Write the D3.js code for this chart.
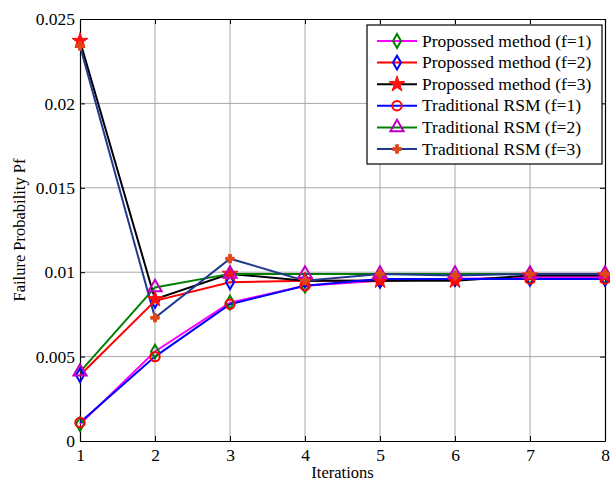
<!DOCTYPE html>
<html>
<head>
<meta charset="utf-8">
<script src="https://cdn.jsdelivr.net/npm/d3@7"></script>
<style>
  body { margin: 0; background: #fff; }
  svg text { font-family: "Liberation Serif", "Times New Roman", serif; }
</style>
</head>
<body>
<div id="chart"></div>
<script>
const iterations = [1, 2, 3, 4, 5, 6, 7, 8];
const yTicks = [0, 0.005, 0.01, 0.015, 0.02, 0.025];
const yTickLabels = ["0", "0.005", "0.01", "0.015", "0.02", "0.025"];

const proposedF1 = [0.0010, 0.0053, 0.0082, 0.0092, 0.0095, 0.0096, 0.0097, 0.0097];
const proposedF2 = [0.0039, 0.0083, 0.0094, 0.0095, 0.0095, 0.0096, 0.0096, 0.0096];
const proposedF3 = [0.0237, 0.0084, 0.0099, 0.0095, 0.0095, 0.0095, 0.0098, 0.0098];
const traditionalF1 = [0.0011, 0.0050, 0.0081, 0.0092, 0.0096, 0.0096, 0.0096, 0.0096];
const traditionalF2 = [0.0041, 0.0091, 0.0099, 0.0099, 0.0099, 0.0099, 0.0099, 0.0099];
const traditionalF3 = [0.0234, 0.0073, 0.0108, 0.0095, 0.0099, 0.0098, 0.0099, 0.0099];

const seriesNames = [
  "Propossed method (f=1)", "Propossed method (f=2)", "Propossed method (f=3)",
  "Traditional RSM (f=1)", "Traditional RSM (f=2)", "Traditional RSM (f=3)"
];

const series = [
  { name: seriesNames[0], values: proposedF1, line: "#ff00ff", marker: "diamond", mColor: "#008000", fill: "none" },
  { name: seriesNames[1], values: proposedF2, line: "#ff0000", marker: "diamond", mColor: "#0000ff", fill: "none" },
  { name: seriesNames[2], values: proposedF3, line: "#000000", marker: "star", mColor: "#ff1010", fill: "#ff1010" },
  { name: seriesNames[3], values: traditionalF1, line: "#0000ff", marker: "circle", mColor: "#ff0000", fill: "none" },
  { name: seriesNames[4], values: traditionalF2, line: "#008000", marker: "triangle", mColor: "#c000c0", fill: "none" },
  { name: seriesNames[5], values: traditionalF3, line: "#1f3a8f", marker: "cross", mColor: "#e04818", fill: "#e04818" }
];

const W = 610, H = 481;
const margin = { top: 19, right: 5, bottom: 40, left: 80 };
const width = W - margin.left - margin.right;
const height = H - margin.top - margin.bottom;
const fs = 17.5;

const svg = d3.select("#chart").append("svg")
  .attr("width", W).attr("height", H);

const g = svg.append("g")
  .attr("transform", `translate(${margin.left},${margin.top})`);

const x = d3.scaleLinear().domain([1, 8]).range([0, width]);
const y = d3.scaleLinear().domain([0, 0.025]).range([height, 0]);

// grid
g.append("g").selectAll("line").data(iterations.slice(1, -1)).join("line")
  .attr("x1", d => x(d)).attr("x2", d => x(d))
  .attr("y1", 0).attr("y2", height)
  .attr("stroke", "#a8a8a8").attr("stroke-width", 1);
g.append("g").selectAll("line").data(yTicks.slice(1, -1)).join("line")
  .attr("x1", 0).attr("x2", width)
  .attr("y1", d => y(d)).attr("y2", d => y(d))
  .attr("stroke", "#a8a8a8").attr("stroke-width", 1);

// axes
const fmt = d => yTickLabels[yTicks.indexOf(d)];
const axisStyle = sel => {
  sel.select(".domain").attr("stroke", "#000").attr("stroke-width", 1.2);
  sel.selectAll(".tick line").attr("stroke", "#000");
  sel.selectAll("text").attr("font-size", fs).attr("fill", "#000");
};
g.append("g").attr("transform", `translate(0,${height})`)
  .call(d3.axisBottom(x).tickValues(iterations).tickFormat(d3.format("d")).tickSizeInner(-5).tickSizeOuter(0).tickPadding(8))
  .call(axisStyle);
g.append("g")
  .call(d3.axisTop(x).tickValues(iterations).tickFormat("").tickSizeInner(-5).tickSizeOuter(0))
  .call(axisStyle);
g.append("g")
  .call(d3.axisLeft(y).tickValues(yTicks).tickFormat(fmt).tickSizeInner(-5).tickSizeOuter(0).tickPadding(5))
  .call(axisStyle);
g.append("g").attr("transform", `translate(${width},0)`)
  .call(d3.axisRight(y).tickValues(yTicks).tickFormat("").tickSizeInner(-5).tickSizeOuter(0))
  .call(axisStyle);

// markers
function markerPath(type) {
  if (type === "diamond") return d3.symbol(d3.symbolDiamond, 55)();
  if (type === "star") return d3.symbol(d3.symbolStar, 80)();
  if (type === "circle") return d3.symbol(d3.symbolCircle, 70)();
  if (type === "triangle") return d3.symbol(d3.symbolTriangle, 75)();
  return d3.symbol(d3.symbolCross, 40)();
}

const line = d3.line().x((d, i) => x(iterations[i])).y(d => y(d));

series.forEach(s => {
  g.append("path").datum(s.values)
    .attr("d", line)
    .attr("fill", "none")
    .attr("stroke", s.line)
    .attr("stroke-width", 2);
});
series.forEach(s => {
  g.append("g").selectAll("path").data(s.values).join("path")
    .attr("transform", (d, i) => `translate(${x(iterations[i])},${y(d)})`)
    .attr("d", markerPath(s.marker))
    .attr("fill", s.fill)
    .attr("stroke", s.mColor)
    .attr("stroke-width", s.fill === "none" ? 2 : 1);
});

// axis titles
svg.append("text")
  .attr("x", margin.left + width / 2).attr("y", 478)
  .attr("text-anchor", "middle").attr("font-size", 16.5)
  .text("Iterations");
svg.append("text")
  .attr("transform", `translate(25,${margin.top + height / 2}) rotate(-90)`)
  .attr("text-anchor", "middle").attr("font-size", 16.5)
  .text("Failure Probability Pf");

// legend
const lg = svg.append("g").attr("transform", "translate(367,25)");
lg.append("rect")
  .attr("width", 235).attr("height", 139)
  .attr("fill", "#fff").attr("stroke", "#000").attr("stroke-width", 1.2);
series.forEach((s, i) => {
  const ry = 16 + i * 21.6;
  lg.append("line").attr("x1", 10).attr("x2", 50).attr("y1", ry).attr("y2", ry)
    .attr("stroke", s.line).attr("stroke-width", 2);
  lg.append("path").attr("transform", `translate(30,${ry})`)
    .attr("d", markerPath(s.marker))
    .attr("fill", s.fill).attr("stroke", s.mColor)
    .attr("stroke-width", s.fill === "none" ? 2 : 1);
  lg.append("text").attr("x", 55).attr("y", ry + 5.5)
    .attr("font-size", fs).text(s.name);
});
</script>
</body>
</html>
